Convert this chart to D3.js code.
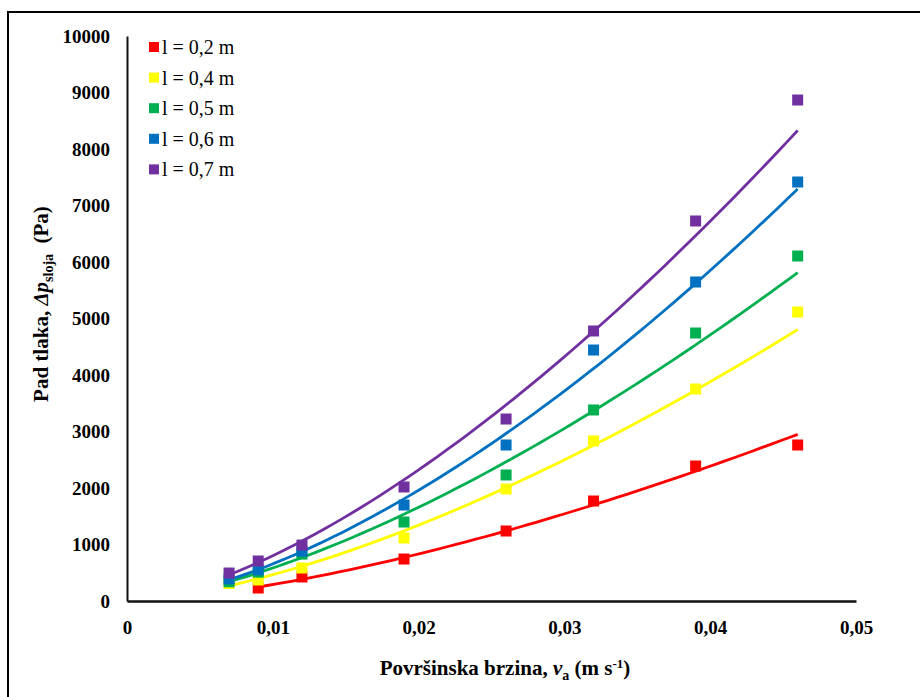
<!DOCTYPE html>
<html>
<head>
<meta charset="utf-8">
<script src="https://cdn.jsdelivr.net/npm/d3@7"></script>
<style>
	body { margin: 0; background: #fff; }
	text { font-family: "Liberation Serif", "Times New Roman", serif; }
</style>
</head>
<body>
<div id="chart"></div>
<script>
// brzine (m/s)
var vel = [0.007, 0.009, 0.012, 0.019, 0.026, 0.032, 0.039, 0.046]

var seriesNames = ['l = 0,2 m', 'l = 0,4 m', 'l = 0,5 m', 'l = 0,6 m', 'l = 0,7 m']
var seriesColors = ['#FF0000', '#FFFF00', '#00B050', '#0070C0', '#7030A0']

// pad tlaka (Pa), null = nema mjerenja
var l02 = [null, 230, 425, 743, 1239, 1770, 2389, 2761]
var l04 = [310, 372, 584, 1115, 1982, 2832, 3752, 5115]
var l05 = [340, 510, 830, 1398, 2230, 3381, 4743, 6106]
var l06 = [390, 550, 880, 1699, 2761, 4442, 5646, 7416]
var l07 = [495, 708, 990, 2018, 3221, 4779, 6726, 8867]

var xTicks = [0, 0.01, 0.02, 0.03, 0.04, 0.05]
var yTicks = [0, 1000, 2000, 3000, 4000, 5000, 6000, 7000, 8000, 9000, 10000]

var allSeries = [l02, l04, l05, l06, l07]

var width = 920,
	height = 697

var svg = d3.select('#chart').append('svg')
	.attr('width', width)
	.attr('height', height)

// okvir
svg.append('rect')
	.attr('x', 8).attr('y', 12)
	.attr('width', 930).attr('height', 700)
	.attr('fill', 'none')
	.attr('stroke', '#000')
	.attr('stroke-width', 2)

var x = d3.scaleLinear()
	.domain([0, 0.05])
	.range([127, 856])

var y = d3.scaleLinear()
	.domain([0, 10000])
	.range([601, 36])

var fmt = function (d) { return d === 0 ? '0' : d3.format('.2f')(d).replace('.', ',') }

// osi
var xAxis = d3.axisBottom(x).tickValues(xTicks).tickSize(0).tickPadding(20).tickFormat(fmt)
var gx = svg.append('g').attr('transform', 'translate(0,' + y(0) + ')').call(xAxis)
gx.select('.domain').attr('stroke', '#111').attr('stroke-width', 2.5)
gx.selectAll('text').attr('font-size', 19).attr('font-weight', 'bold').attr('fill', '#000')

var yAxis = d3.axisLeft(y).tickValues(yTicks).tickSize(0).tickPadding(17).tickFormat(d3.format('d'))
var gy = svg.append('g').attr('transform', 'translate(' + x(0) + ',0)').call(yAxis)
gy.select('.domain').attr('stroke', '#111').attr('stroke-width', 2)
gy.selectAll('text').attr('font-size', 19).attr('font-weight', 'bold').attr('fill', '#000')

// trend linije (potencijska regresija kao u Excelu)
function powerFit(xs, ys) {
	var pts = []
	xs.forEach(function (v, i) { if (ys[i] != null) pts.push([Math.log(v), Math.log(ys[i])]) })
	var mx = d3.mean(pts, function (p) { return p[0] }),
		my = d3.mean(pts, function (p) { return p[1] })
	var sxy = d3.sum(pts, function (p) { return (p[0] - mx) * (p[1] - my) }),
		sxx = d3.sum(pts, function (p) { return (p[0] - mx) * (p[0] - mx) })
	var b = sxy / sxx,
		a = Math.exp(my - b * mx)
	return function (v) { return a * Math.pow(v, b) }
}

var line = d3.line()
	.x(function (d) { return x(d[0]) })
	.y(function (d) { return y(d[1]) })

allSeries.forEach(function (s, k) {
	var f = powerFit(vel, s)
	var xs = vel.filter(function (v, i) { return s[i] != null })
	var x0 = d3.min(xs), x1 = d3.max(xs)
	var curve = d3.range(0, 61).map(function (j) {
		var v = x0 + (x1 - x0) * j / 60
		return [v, f(v)]
	})
	svg.append('path')
		.datum(curve)
		.attr('d', line)
		.attr('fill', 'none')
		.attr('stroke', seriesColors[k])
		.attr('stroke-width', 2.8)
})

var ms = 11
allSeries.forEach(function (s, k) {
	var pts = vel.map(function (v, i) { return { v: v, p: s[i] } })
		.filter(function (d) { return d.p != null })
	svg.append('g').selectAll('rect')
		.data(pts)
		.enter().append('rect')
		.attr('x', function (d) { return x(d.v) - ms / 2 })
		.attr('y', function (d) { return y(d.p) - ms / 2 })
		.attr('width', ms)
		.attr('height', ms)
		.attr('fill', seriesColors[k])
})

// legenda
var legend = svg.append('g')
seriesNames.forEach(function (name, k) {
	var cy = 47 + k * 30.6
	legend.append('rect')
		.attr('x', 149).attr('y', cy - 5)
		.attr('width', 10).attr('height', 10)
		.attr('fill', seriesColors[k])
	legend.append('text')
		.attr('x', 162).attr('y', cy + 7)
		.attr('font-size', 20)
		.attr('fill', '#000')
		.text(name)
})

// naslovi osi
var xt = svg.append('text')
	.attr('x', 505).attr('y', 675)
	.attr('text-anchor', 'middle')
	.attr('font-size', 21)
	.attr('font-weight', 'bold')
xt.append('tspan').text('Površinska brzina, ')
xt.append('tspan').attr('font-style', 'italic').text('v')
xt.append('tspan').attr('font-size', 14).attr('dy', 5).text('a')
xt.append('tspan').attr('dy', -5).text(' (m s')
xt.append('tspan').attr('font-size', 13).attr('dy', -7).text('-1')
xt.append('tspan').attr('dy', 7).text(')')

var yt = svg.append('text')
	.attr('transform', 'translate(48,304) rotate(-90)')
	.attr('text-anchor', 'middle')
	.attr('font-size', 21)
	.attr('font-weight', 'bold')
yt.append('tspan').text('Pad tlaka, ')
yt.append('tspan').attr('font-style', 'italic').text('Δp')
yt.append('tspan').attr('font-size', 14).attr('dy', 5).text('sloja')
yt.append('tspan').attr('dy', -5).attr('xml:space', 'preserve').text('  (Pa)')
</script>
</body>
</html>
